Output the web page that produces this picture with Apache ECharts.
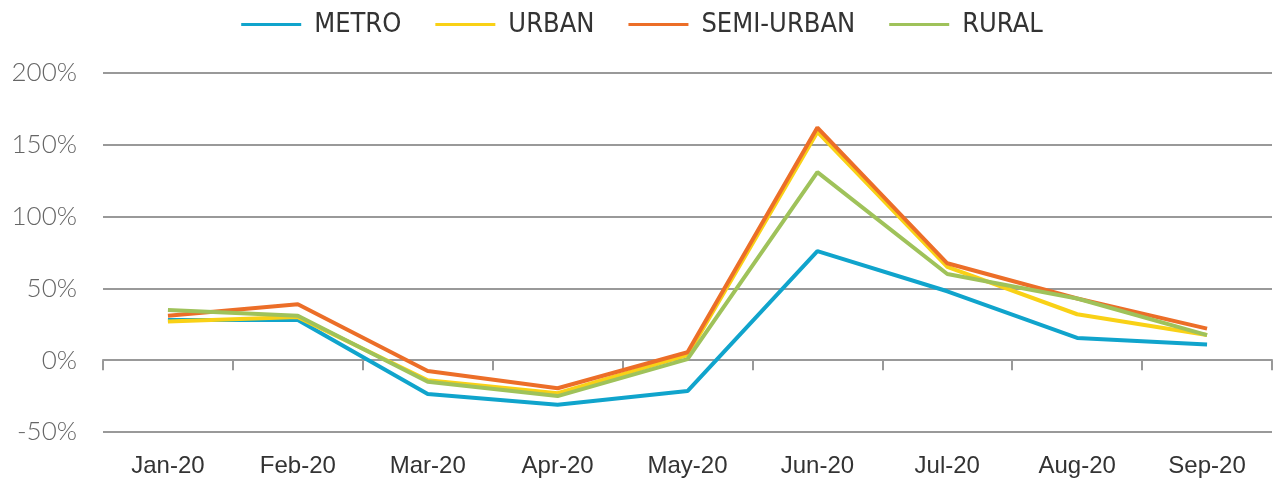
<!DOCTYPE html>
<html>
<head>
<meta charset="utf-8">
<script src="https://cdn.jsdelivr.net/npm/echarts@6/dist/echarts.min.js"></script>
<style>
  html, body { margin: 0; padding: 0; background: #fff; }
  #chart-container { width: 1284px; height: 485px; }
</style>
</head>
<body>
<div id="chart-container"></div>
<script>
const months = ["Jan-20", "Feb-20", "Mar-20", "Apr-20", "May-20", "Jun-20", "Jul-20", "Aug-20", "Sep-20"];
const metro = [28, 28, -23.5, -31, -21.5, 76, 48, 15.5, 11];
const urban = [27, 30, -14, -23, 3.5, 159, 65, 32, 17.5];
const semiUrban = [31, 39, -7.5, -19.5, 5.5, 162, 67.5, 43, 22];
const rural = [35, 31, -15, -25, 0.7, 131, 60, 43, 17.5];

const colors = ["#10a4cc", "#f9d116", "#ec6e28", "#9fc25a"];

const chart = echarts.init(document.getElementById("chart-container"));

function lineSeries(name, data, color) {
  return {
    name: name,
    type: "line",
    data: data,
    xAxisIndex: 0,
    symbol: "none",
    lineStyle: { color: color, width: 4 },
    itemStyle: { color: color },
  };
}

const option = {
  animation: false,
  color: colors,
  legend: {
    top: 6,
    left: "center",
    icon: "rect",
    itemWidth: 60,
    itemHeight: 3,
    itemGap: 34,
    textStyle: {
      fontFamily: "Liberation Sans Narrow, DejaVu Sans Condensed, sans-serif",
      fontSize: 27,
      color: "#333",
      padding: [0, 0, 0, 8],
    },
    data: ["METRO", "URBAN", "SEMI-URBAN", "RURAL"],
  },
  grid: { left: 103, right: 12, top: 73, bottom: 53 },
  xAxis: [
    {
      type: "category",
      data: months,
      position: "bottom",
      axisLine: { show: false, onZero: false },
      axisTick: { show: false },
      axisLabel: {
        margin: 22,
        fontFamily: "Liberation Sans, sans-serif",
        fontSize: 24,
        color: "#333",
      },
      splitLine: { show: false },
    },
    {
      type: "category",
      data: months,
      position: "bottom",
      axisLine: { show: true, onZero: true, lineStyle: { color: "#999", width: 2 } },
      axisTick: { show: true, length: 10, lineStyle: { color: "#999", width: 2 } },
      axisLabel: { show: false },
      splitLine: { show: false },
    },
  ],
  yAxis: {
    type: "value",
    min: -50,
    max: 200,
    interval: 50,
    axisLine: { show: false },
    axisTick: { show: false },
    axisLabel: {
      formatter: "{value}%",
      margin: 26,
      fontFamily: "Lato, sans-serif",
      fontWeight: 300,
      fontSize: 26,
      color: "#666",
    },
    splitLine: { lineStyle: { color: "#999", width: 2 } },
  },
  series: [
    lineSeries("METRO", metro, colors[0]),
    lineSeries("URBAN", urban, colors[1]),
    lineSeries("SEMI-URBAN", semiUrban, colors[2]),
    lineSeries("RURAL", rural, colors[3]),
  ],
};

chart.setOption(option);
</script>
</body>
</html>
